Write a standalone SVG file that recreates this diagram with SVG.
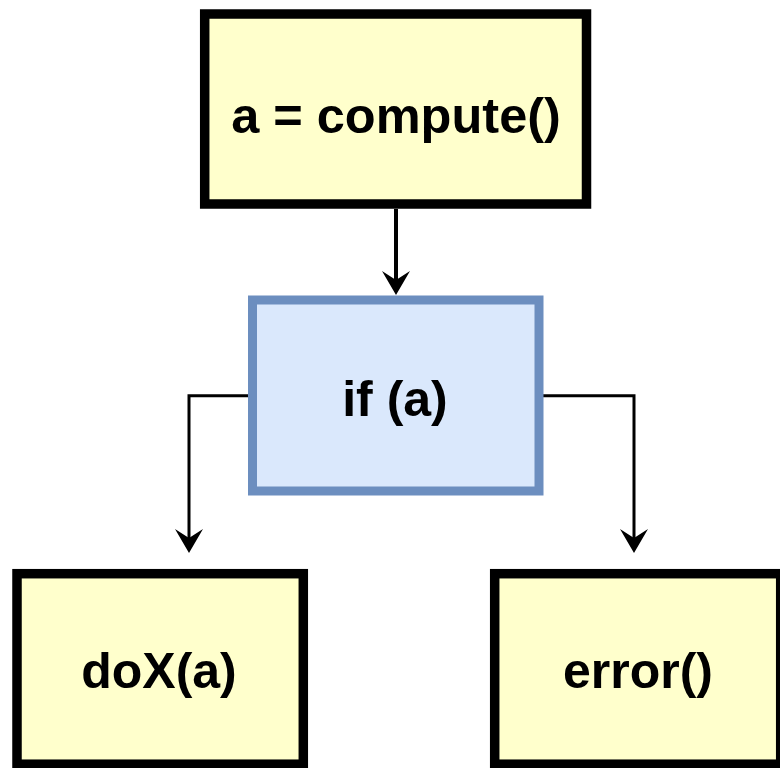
<svg xmlns="http://www.w3.org/2000/svg" width="780" height="768" viewBox="0 0 780 768">
  <style>
    .step { fill: #ffffcc; stroke: #000000; stroke-width: 9.5; }
    .cond { fill: #dae8fc; stroke: #6c8ebf; stroke-width: 9; }
    .label { font-family: "Liberation Sans", Arial, sans-serif; font-weight: bold; font-size: 50px; fill: #000000; text-anchor: middle; }
    .edge { fill: none; stroke: #000000; stroke-width: 3; }
    .edge.main { stroke-width: 4; }
  </style>
  <defs>
    <marker id="arrow" viewBox="0 0 25 30" refX="9" refY="15" markerWidth="25" markerHeight="30" markerUnits="userSpaceOnUse" orient="auto">
      <path d="M0,1 L24,15 L0,29 L9,15 Z" fill="#000000"/>
    </marker>
  </defs>
  <rect width="780" height="768" fill="#ffffff"/>

  <!-- connectors -->
  <g id="edges">
    <path class="edge main" d="M396,209 L396,280" marker-end="url(#arrow)"/>
    <path class="edge" d="M248,395.7 L189,395.7 L189,538" marker-end="url(#arrow)"/>
    <path class="edge" d="M543,395.7 L634,395.7 L634,538" marker-end="url(#arrow)"/>
  </g>

  <g id="compute">
    <rect class="step" x="204.7" y="14" width="381.8" height="190"/>
    <text class="label" x="396" y="133" style="font-size:50.5px">a = compute()</text>
  </g>

  <g id="ifa">
    <rect class="cond" x="252.5" y="300" width="286.5" height="191"/>
    <text class="label" x="395" y="416">if (a)</text>
  </g>

  <g id="dox">
    <rect class="step" x="17" y="573.7" width="286.3" height="190.5"/>
    <text class="label" x="159" y="688">doX(a)</text>
  </g>

  <g id="error">
    <rect class="step" x="494.7" y="573.7" width="286" height="190.5"/>
    <text class="label" x="638" y="688">error()</text>
  </g>
</svg>
